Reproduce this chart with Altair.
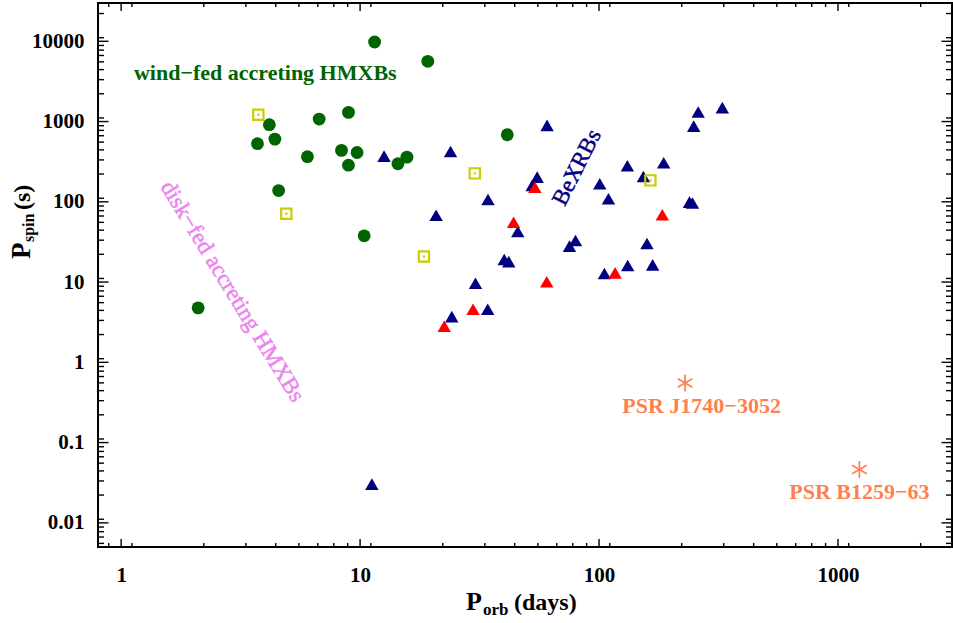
import altair as alt
import pandas as pd

SERIF = "Liberation Serif"

# Wind-fed supergiant systems: orbital period (d), spin period (s)
wind_porb = [11.5, 19.2, 3.72, 4.17, 4.40, 4.56, 6.02, 6.74, 8.36, 8.94, 8.94,
             9.71, 10.4, 14.4, 15.7, 41.3, 2.10]
wind_pspin = [9800, 5630, 530, 914, 604, 138, 365, 1074, 437, 1301, 286,
              412, 37.7, 298, 360, 685, 4.77]

# Supergiant fast X-ray transients
sfxt_porb = [3.75, 4.91, 18.5, 30.2, 164]
sfxt_pspin = [1218, 70.9, 20.8, 226, 185]

# Be/X-ray binaries
be_porb = [12.6, 11.2, 60.6, 23.9, 55.1, 52.5, 34.3, 20.8, 45.7, 79.7, 75.2,
           40.1, 41.9, 30.4, 34.2, 24.2, 100.7, 109.5, 131.4, 153.3, 186.4,
           239, 246, 158.7, 131.8, 167.6, 105.3, 260, 328, 249]
be_pspin = [371, 0.0304, 896, 424, 203, 160, 107, 68.1, 42.7, 32.9, 28.0,
            19.1, 18.0, 9.66, 4.58, 3.71, 168, 109, 281, 207, 307,
            99.0, 96.6, 30.2, 16.1, 16.4, 12.8, 1313, 1490, 878]

# Be/X-ray binaries with a second group flagged in red
bered_porb = [43.9, 53.9, 60.4, 29.7, 22.5, 184, 116.7]
bered_pspin = [55.7, 152, 10.1, 4.58, 2.81, 68.9, 13.0]

# Radio pulsars in Be-star binaries
psr_porb = [229, 1229]
psr_pspin = [0.553, 0.0462]
psr_names = ["PSR J1740\u22123052", "PSR B1259\u221263"]

# Tick values
x_major = [1, 10, 100, 1000]
y_major = [0.01, 0.1, 1, 10, 100, 1000, 10000]
minor_step = 1.109
x_minor = [minor_step * k * 10 ** n for n in range(-1, 4) for k in range(1, 9)
           if 0.8 < minor_step * k * 10 ** n < 3000]
y_minor = [minor_step * k * 10 ** n for n in range(-3, 5) for k in range(1, 9)
           if 0.005 < minor_step * k * 10 ** n < 30000]

W, H = 854, 544

xs = alt.Scale(type="log", domain=[0.8, 3000], nice=False)
ys = alt.Scale(type="log", domain=[0.005, 30000], nice=False)

x_axis = alt.Axis(values=x_major, format="~g", ticks=False, domain=False, grid=False,
                  labelFont=SERIF, labelFontSize=21, labelFontWeight="bold",
                  labelColor="black", labelPadding=17, labelFlush=False,
                  labelOverlap=False, labelBaseline="top")
y_axis = alt.Axis(values=y_major, format="~g", ticks=False, domain=False, grid=False,
                  labelFont=SERIF, labelFontSize=21, labelFontWeight="bold",
                  labelColor="black", labelPadding=14, labelFlush=False,
                  labelOverlap=False)


def X(field):
    return alt.X(field, type="quantitative", scale=xs, axis=x_axis, title=None)


def Y(field):
    return alt.Y(field, type="quantitative", scale=ys, axis=y_axis, title=None)


def frame(px, py, **kw):
    return pd.DataFrame({"porb": px, "pspin": py, **kw})


wind = alt.Chart(frame(wind_porb, wind_pspin)).mark_point(
    shape="circle", filled=True, size=165, color="#006400", opacity=1
).encode(x=X("porb"), y=Y("pspin"))

be = alt.Chart(frame(be_porb, be_pspin)).mark_point(
    shape="triangle-up", filled=True, size=180, color="#000080", opacity=1
).encode(x=X("porb"), y=Y("pspin"))

bered = alt.Chart(frame(bered_porb, bered_pspin)).mark_point(
    shape="triangle-up", filled=True, size=180, color="#FF0000", opacity=1
).encode(x=X("porb"), y=Y("pspin"))

sfxt_box = alt.Chart(frame(sfxt_porb, sfxt_pspin)).mark_point(
    shape="square", filled=False, size=105, color="#CCCC00", strokeWidth=2.2, opacity=1
).encode(x=X("porb"), y=Y("pspin"))
sfxt_dot = alt.Chart(frame(sfxt_porb, sfxt_pspin)).mark_point(
    shape="square", filled=True, size=5, color="#CCCC00", opacity=1
).encode(x=X("porb"), y=Y("pspin"))

asterisk = "M0,-1L0,1M-0.866,-0.5L0.866,0.5M-0.866,0.5L0.866,-0.5"
psr = alt.Chart(frame(psr_porb, psr_pspin, name=psr_names)).mark_point(
    shape=asterisk, filled=False, size=290, color="#FF7F50", strokeWidth=1.7, opacity=1
).encode(x=X("porb"), y=Y("pspin"))

# Region annotations, anchored in data coordinates
notes = alt.Chart(pd.DataFrame({
    "text": ["wind\u2212fed accreting HMXBs", "disk\u2212fed accreting HMXBs", "BeXRBs",
             psr_names[0], psr_names[1]],
    "porb": [4.01, 2.92, 80.7, 268.6, 1229],
    "pspin": [3990, 7.61, 268, 0.288, 0.0244],
}))


def note(i, color, size, weight, angle=0, halo=0.0):
    mark = dict(font=SERIF, fontSize=size, fontWeight=weight, color=color, angle=angle,
                align="center", baseline="middle")
    if halo:
        mark.update(stroke=color, strokeWidth=halo)
    return notes.transform_filter(f"datum.text == '{notes.data['text'][i]}'").mark_text(
        **mark
    ).encode(x=X("porb"), y=Y("pspin"), text="text:N")


labels = [
    note(0, "#006400", 22, "bold"),
    note(1, "#EE82EE", 23, "normal", 58.5, 0.5),
    note(2, "#000080", 23, "normal", 296.7, 0.5),
    note(3, "#FF7F50", 22, "bold"),
    note(4, "#FF7F50", 22, "bold"),
]


# Inward ticks on all four sides
def xticks(vals, length):
    base = alt.Chart(pd.DataFrame({"v": vals})).mark_rule(color="black", strokeWidth=1.4)
    return [
        base.encode(x=X("v"), y=alt.value(H), y2=alt.value(H - length)),
        base.encode(x=X("v"), y=alt.value(0), y2=alt.value(length)),
    ]


def yticks(vals, length):
    base = alt.Chart(pd.DataFrame({"v": vals})).mark_rule(color="black", strokeWidth=1.4)
    return [
        base.encode(y=Y("v"), x=alt.value(0), x2=alt.value(length)),
        base.encode(y=Y("v"), x=alt.value(W), x2=alt.value(W - length)),
    ]


ticks = xticks(x_major, 8) + xticks(x_minor, 4) + yticks(y_major, 10.5) + yticks(y_minor, 6)

# Axis titles with subscripts
one = pd.DataFrame({"k": [0]})


def title_piece(txt, px, py, size, angle=0):
    return alt.Chart(one).mark_text(
        text=txt, font=SERIF, fontSize=size, fontWeight="bold", color="black",
        angle=angle, align="left", baseline="alphabetic"
    ).encode(x=alt.value(px), y=alt.value(py))


titles = [
    title_piece("P", 368, 607, 26),
    title_piece("orb", 385, 612, 17),
    title_piece("(days)", 416, 607, 24),
    title_piece("P", -68, 256, 27, 270),
    title_piece("spin", -64, 239, 16, 270),
    title_piece("(s)", -68, 207, 24, 270),
]

chart = alt.layer(
    *ticks, wind, be, bered, sfxt_box, sfxt_dot, psr, *labels, *titles
).properties(
    width=W, height=H,
    autosize=alt.AutoSizeParams(type="none"),
    padding={"left": 98, "top": 3, "right": 1, "bottom": 76},
    background="white",
).configure_view(
    stroke="black", strokeWidth=2
)

chart.save("out.html", embed_options={"renderer": "svg", "actions": False})
